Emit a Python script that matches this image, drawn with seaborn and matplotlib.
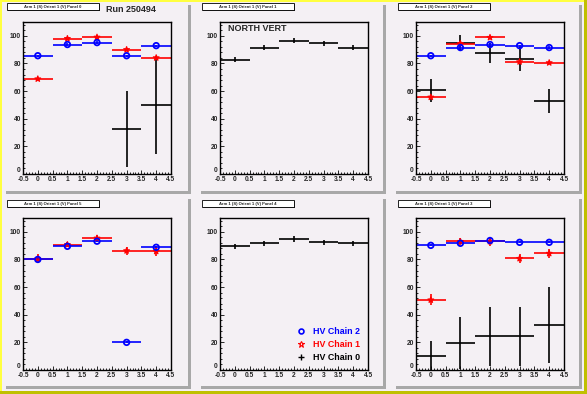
import numpy as np
import pandas as pd
import matplotlib
matplotlib.use("Agg")
import matplotlib.pyplot as plt
from matplotlib.patches import Rectangle
from matplotlib.lines import Line2D
from matplotlib.ticker import MultipleLocator, FuncFormatter
import seaborn as sns

sns.set_style("ticks")
plt.rcParams['font.family'] = ['Liberation Sans', 'DejaVu Sans']

nan = np.nan
bins = [0, 1, 2, 3, 4]

# panel titles, left->right, top->bottom
titles = ["Arm 1 (S) Orient 1 (V) Panel 0", "Arm 1 (S) Orient 1 (V) Panel 1",
          "Arm 1 (S) Orient 1 (V) Panel 2", "Arm 1 (S) Orient 1 (V) Panel 5",
          "Arm 1 (S) Orient 1 (V) Panel 4", "Arm 1 (S) Orient 1 (V) Panel 3"]

# HV Chain 2 (blue)
c2_p0 = [85.6, 93.7, 95.1, 85.6, 92.9]
c2_p2 = [85.6, 91.5, 93.7, 92.9, 91.5]
c2_p5 = [80.0, 89.5, 93.2, 20.0, 88.8]
c2_p3 = [90.2, 91.7, 93.7, 92.4, 92.4]
c2_err = [0.8, 0.8, 0.8, 0.8, 0.8]

# HV Chain 1 (red)
c1_p0 = [68.8, 98.0, 99.0, 90.0, 84.1]
c1_p0_err = [1.0, 1.0, 1.0, 1.0, 1.0]
c1_p2 = [55.6, 94.4, 98.8, 81.2, 80.5]
c1_p2_err = [1.5, 1.5, 1.0, 1.5, 1.0]
c1_p5 = [80.5, 90.7, 95.4, 86.3, 85.9]
c1_p5_err = [3.3, 2.0, 2.0, 3.0, 3.5]
c1_p3 = [50.7, 93.0, 93.0, 80.7, 84.4]
c1_p3_err = [4.0, 2.5, 3.5, 3.5, 3.5]

# HV Chain 0 (black)
c0_p0 = [nan, nan, nan, 32.9, 49.8]
c0_p0_err = [nan, nan, nan, 27.5, 35.6]
c0_p1 = [82.7, 91.5, 96.6, 94.6, 91.5]
c0_p1_err = [2.0, 2.0, 2.0, 2.0, 2.0]
c0_p2 = [60.7, 94.9, 87.3, 83.2, 52.9]
c0_p2_err = [8.4, 5.5, 7.3, 8.5, 8.7]
c0_p4 = [89.5, 91.7, 94.9, 92.4, 91.7]
c0_p4_err = [2.0, 2.0, 2.0, 2.0, 2.0]
c0_p3 = [10.2, 19.5, 24.4, 24.4, 32.4]
c0_p3_err = [10.5, 18.5, 21.5, 21.5, 27.5]

W, H = 587, 394
pad_col = '#f4f0f4'
fig = plt.figure(figsize=(W / 100, H / 100), dpi=100, facecolor=pad_col)


def prect(x0, y0, x1, y1, **kw):
    r = Rectangle((x0 / W, 1 - y1 / H), (x1 - x0) / W, (y1 - y0) / H,
                  transform=fig.transFigure, zorder=-5, **kw)
    fig.add_artist(r)


# canvas bevel
prect(0, 0, W, 2, color='#ffff40', lw=0)
prect(0, 0, 2, H, color='#ffff40', lw=0)
prect(584, 0, W, H, color='#c0c000', lw=0)
prect(0, 391, W, H, color='#c0c000', lw=0)

pad_x0 = [6, 201, 396]
pad_x1 = [190, 385, 581]
pad_y0 = [5, 199]
pad_y1 = [193, 388]
box_x0 = [7, 202, 398]
box_y0 = [3, 200]
ax_left = [23, 220, 416]
ax_bottom = [174, 370]


def errs(ax, vals, err, color):
    ax.errorbar(bins, vals, xerr=0.5, yerr=err, fmt='none', ecolor=color,
                elinewidth=1.2, capsize=0)


def panel(ax, c0=None, c0e=None, c1=None, c1e=None, c2=None):
    if c0 is not None:
        errs(ax, c0, c0e, 'black')
    if c1 is not None:
        errs(ax, c1, c1e, 'red')
        sns.scatterplot(x=bins, y=c1, marker='*', s=18, color='red',
                        facecolor='none', edgecolor='red', linewidth=0.9,
                        ax=ax, zorder=4)
    if c2 is not None:
        errs(ax, c2, c2_err, 'blue')
        sns.scatterplot(x=bins, y=c2, marker='o', s=16, color='blue',
                        facecolor='none', edgecolor='blue', linewidth=1.3,
                        ax=ax, zorder=5)


axes = []
for r in range(2):
    for c in range(3):
        # pad shadow
        prect(pad_x1[c] - 2, pad_y0[r], pad_x1[c] + 1, pad_y1[r], color='#a8a8a8', lw=0)
        prect(pad_x0[c], pad_y1[r] - 2, pad_x1[c] + 1, pad_y1[r] + 1, color='#a8a8a8', lw=0)
        # title box
        bx, by = box_x0[c], box_y0[r]
        prect(bx + 1, by + 1, bx + 93, by + 8, color='black', lw=0)
        prect(bx, by, bx + 92, by + 7, facecolor='white', edgecolor='black', lw=0.6)
        fig.text((bx + 46) / W, 1 - (by + 3.6) / H, titles[r * 3 + c], fontsize=3,
                 fontweight='bold', ha='center', va='center')
        ax = fig.add_axes([ax_left[c] / W, 1 - ax_bottom[r] / H, 148 / W, 152 / H])
        ax.set_facecolor(pad_col)
        ax.set_xlim(-0.5, 4.5)
        ax.set_ylim(0, 110)
        ax.xaxis.set_major_locator(MultipleLocator(0.5))
        ax.xaxis.set_minor_locator(MultipleLocator(0.1))
        ax.yaxis.set_major_locator(MultipleLocator(20))
        ax.yaxis.set_minor_locator(MultipleLocator(4))
        ax.xaxis.set_major_formatter(FuncFormatter(lambda v, p: '%g' % round(v, 1)))
        ax.tick_params(which='both', direction='in', width=0.7, labelsize=4.8, pad=1.5)
        ax.tick_params(axis='x', which='major', length=3.2)
        ax.tick_params(axis='x', which='minor', length=1.6)
        ax.tick_params(axis='y', which='major', length=2.6)
        ax.tick_params(axis='y', which='minor', length=1.4)
        for sp in ax.spines.values():
            sp.set_linewidth(1.0)
            sp.set_color('black')
        axes.append(ax)

panel(axes[0], c0_p0, c0_p0_err, c1_p0, c1_p0_err, c2_p0)
panel(axes[1], c0_p1, c0_p1_err)
panel(axes[2], c0_p2, c0_p2_err, c1_p2, c1_p2_err, c2_p2)
panel(axes[3], None, None, c1_p5, c1_p5_err, c2_p5)
panel(axes[4], c0_p4, c0_p4_err)
panel(axes[5], c0_p3, c0_p3_err, c1_p3, c1_p3_err, c2_p3)

for ax in axes:
    for lab in ax.get_xticklabels() + ax.get_yticklabels():
        lab.set_fontweight('bold')
    # the "0" on the y axis sits just above the frame corner
    locs = ax.yaxis.get_majorticklocs()
    for t, loc in zip(ax.yaxis.get_major_ticks(), locs):
        if abs(loc) < 1e-9:
            t.label1.set_va('bottom')

fig.text(106 / W, 1 - 9 / H, "Run 250494", fontsize=6.5, fontweight='bold',
         ha='left', va='center')
axes[1].text(0.057, 0.955, "NORTH VERT", transform=axes[1].transAxes,
             fontsize=6.5, fontweight='bold', ha='left', va='center')

handles = [
    Line2D([], [], ls='none', marker='o', mfc='none', mec='blue', mew=1.2, ms=3.5),
    Line2D([], [], ls='none', marker='*', mfc='none', mec='red', mew=0.8, ms=4.5),
    Line2D([], [], ls='none', marker='+', color='black', mew=1.0, ms=5),
]
axes[4].legend(handles, ["HV Chain 2", "HV Chain 1", "HV Chain 0"],
               loc='lower left', bbox_to_anchor=(0.52, 0.055), borderaxespad=0,
               borderpad=0, frameon=False, handlelength=1.0, handletextpad=0.8,
               labelspacing=0.45, labelcolor=['blue', 'red', 'black'],
               prop={'weight': 'bold', 'size': 6.4})

fig.savefig("out.png", dpi=100, facecolor=pad_col)
